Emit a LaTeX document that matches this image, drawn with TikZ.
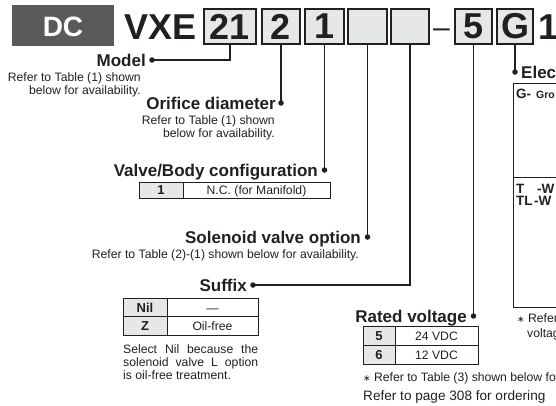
\documentclass[tikz,border=0pt]{standalone}
\usepackage{fontspec}
\setmainfont{Liberation Sans}
\newfontfamily\dejavu{DejaVu Sans}
\definecolor{boxgray}{HTML}{E6E7E8}
\definecolor{dcgray}{HTML}{5A5A5A}
\definecolor{ink}{HTML}{231F20}
\tikzset{
  hbox/.style={draw=ink, line width=1.4pt, fill=boxgray, minimum height=35pt, inner sep=0pt,
    font=\bfseries\fontsize{36}{36}\selectfont, text=ink},
  conn/.style={draw=ink, line width=1.4pt},
  dot/.style={circle, fill=ink, inner sep=0pt, minimum size=5.5pt},
  lbl/.style={inner sep=0pt, font=\bfseries\fontsize{17}{18}\selectfont, text=ink},
  desc/.style={inner sep=0pt, font=\fontsize{12.2}{13}\selectfont, text=ink},
  cellg/.style={draw=ink, line width=0.9pt, fill=boxgray},
  cellw/.style={draw=ink, line width=0.9pt},
  ctxt/.style={inner sep=0pt, font=\fontsize{12.2}{13}\selectfont, text=ink},
  ctxb/.style={inner sep=0pt, font=\bfseries\fontsize{13}{13}\selectfont, text=ink},
  etxt/.style={inner sep=0pt, font=\bfseries\fontsize{13.5}{14}\selectfont, text=ink},
  note/.style={inner sep=0pt, font=\fontsize{12.2}{13}\selectfont, text=ink},
}
\begin{document}
\begin{tikzpicture}[x=1pt,y=-1pt]
\useasboundingbox (0,0) rectangle (556,405);
\clip (0,0) rectangle (556,405);
% header
\node[fill=dcgray, minimum width=102pt, minimum height=41pt, inner sep=0pt] (dcbox) at (63,25.5) {};
\node[anchor=base, inner sep=0pt, text=white, font=\bfseries\fontsize{28}{28}\selectfont] (dc) at (63,36) {DC};
\node[anchor=base west, inner sep=0pt, text=ink, font=\bfseries\fontsize{36}{36}\selectfont] (vxe) at (124,39) {VXE};
\node[hbox, minimum width=52pt] (b21) at (230,26.5) {21};
\node[hbox, minimum width=38pt] (b2) at (281,26.5) {2};
\node[hbox, minimum width=39pt] (b1) at (324.5,26.5) {1};
\node[hbox, minimum width=39pt] (be1) at (367.5,26.5) {};
\node[hbox, minimum width=38pt] (be2) at (410,26.5) {};
\node[anchor=base, inner sep=0pt, text=ink, font=\fontsize{30}{30}\selectfont] (dash) at (441.5,37) {–};
\node[hbox, minimum width=37pt] (b5) at (473.5,26.5) {5};
\node[hbox, minimum width=36pt] (bG) at (515,26.5) {G};
\node[anchor=base west, inner sep=0pt, text=ink, font=\bfseries\fontsize{36}{36}\selectfont] (one) at (538,39) {1};
% dots
\node[dot] (dModel) at (152,60) {};
\node[dot] (dOrif) at (281,103) {};
\node[dot] (dValve) at (324.5,170) {};
\node[dot] (dSol) at (367.5,237) {};
\node[dot] (dSuf) at (253,285) {};
\node[dot] (dRated) at (473.5,316) {};
\node[dot] (dElec) at (515,72) {};
% connectors
\draw[conn] (b21.south) |- (dModel.center);
\draw[conn] (b2.south) -- (dOrif.center);
\draw[conn] (b1.south) -- (dValve.center);
\draw[conn] (be1.south) -- (dSol.center);
\draw[conn] (be2.south) |- (dSuf.center);
\draw[conn] (b5.south) -- (dRated.center);
\draw[conn] (bG.south) -- (dElec.center);
% labels
\node[lbl, anchor=base east] (lModel) at (146,66) {Model};
\node[lbl, anchor=base east] (lOrif) at (276,109) {Orifice diameter};
\node[lbl, anchor=base east] (lValve) at (318,176) {Valve/Body configuration};
\node[lbl, anchor=base east] (lSol) at (361,243) {Solenoid valve option};
\node[lbl, anchor=base east] (lSuf) at (247,291) {Suffix};
\node[lbl, anchor=base east] (lRated) at (467,322) {Rated voltage};
\node[lbl, anchor=base west] (lElec) at (521,78) {Elec};
% descriptions
\node[desc, anchor=base east] (dm1) at (141,81) {Refer to Table (1) shown};
\node[desc, anchor=base east] (dm2) at (141,94) {below for availability.};
\node[desc, anchor=base east] (do1) at (275,124) {Refer to Table (1) shown};
\node[desc, anchor=base east] (do2) at (275,137) {below for availability.};
\node[desc, anchor=base east] (ds1) at (359,258) {Refer to Table (2)-(1) shown below for availability.};
% valve table
\draw[cellg] (139,182) rectangle (183,198);
\draw[cellw] (183,182) rectangle (330,198);
\node[ctxb, anchor=base] (v1) at (161,194.5) {1};
\node[ctxt, anchor=base] (v1t) at (256.5,194.5) {N.C. (for Manifold)};
% suffix table
\draw[cellg] (123,298) rectangle (167,316.5);
\draw[cellg] (123,316.5) rectangle (167,335);
\draw[cellw] (167,298) rectangle (258,316.5);
\draw[cellw] (167,316.5) rectangle (258,335);
\node[ctxb, anchor=base] (sn) at (145,312) {Nil};
\node[ctxt, anchor=base] (snt) at (212.5,312) {—};
\node[ctxb, anchor=base] (sz) at (145,330.5) {Z};
\node[ctxt, anchor=base] (szt) at (212.5,330.5) {Oil-free};
\node[desc, anchor=base west] (sf1) at (123,353) {\makebox[135pt][s]{Select Nil because the}};
\node[desc, anchor=base west] (sf2) at (123,366) {\makebox[135pt][s]{solenoid valve L option}};
\node[desc, anchor=base west] (sf3) at (123,379) {is oil-free treatment.};
% rated voltage table
\draw[cellg] (363,326) rectangle (395,345);
\draw[cellg] (363,345) rectangle (395,364);
\draw[cellw] (395,326) rectangle (478,345);
\draw[cellw] (395,345) rectangle (478,364);
\node[ctxb, anchor=base] (r5) at (379,340.5) {5};
\node[ctxt, anchor=base] (r5t) at (436.5,340.5) {24 VDC};
\node[ctxb, anchor=base] (r6) at (379,359.5) {6};
\node[ctxt, anchor=base] (r6t) at (436.5,359.5) {12 VDC};
\node[note, anchor=base west] (fn1) at (363,381) {{\dejavu\fontsize{9}{9}\selectfont ∗} Refer to Table (3) shown below fo};
\node[note, anchor=base west, font=\fontsize{13.6}{14}\selectfont] (fn2) at (363,400) {Refer to page 308 for ordering};
% electrical entry box
\draw[cellw] (513,83) -- (513,307) -- (560,307);
\draw[cellw] (560,83) -- (513,83);
\draw[cellw] (513,177) -- (560,177);
\node[etxt, anchor=base west] (eg) at (516,98) {G-};
\node[etxt, anchor=base west, font=\bfseries\fontsize{10.5}{11}\selectfont] (egt) at (536,98) {Gro};
\node[etxt, anchor=base west] (et) at (516,193) {T};
\node[etxt, anchor=base west] (etw) at (537,193) {-W};
\node[etxt, anchor=base west] (etl) at (516,205) {TL};
\node[etxt, anchor=base west] (etlw) at (534,205) {-W};
\node[note, anchor=base west] (en1) at (517,322) {{\dejavu\fontsize{9}{9}\selectfont ∗} Refer};
\node[note, anchor=base west] (en2) at (527,337) {voltag};
\end{tikzpicture}
\end{document}
